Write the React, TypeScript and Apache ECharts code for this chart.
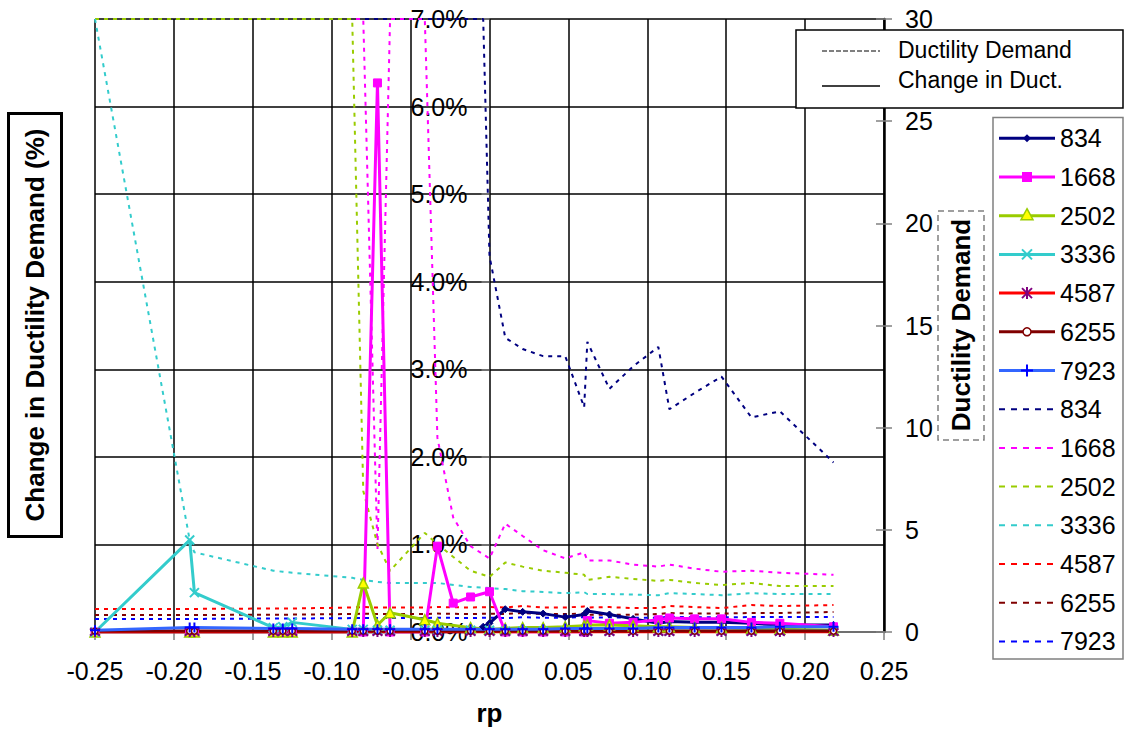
import React, { useEffect, useRef } from 'react';
import * as echarts from 'echarts';

// rp values (x) shared by the series; null marks "no point for this series"
const RP = [-0.25, -0.19, -0.187, -0.137, -0.131, -0.125, -0.087, -0.08, -0.071, -0.063, -0.041, -0.033, -0.023, -0.012, -0.004, 0.0, 0.01, 0.021, 0.034, 0.048, 0.06, 0.062, 0.076, 0.091, 0.107, 0.114, 0.13, 0.147, 0.166, 0.184, 0.218];

const SIZES = ['834', '1668', '2502', '3336', '4587', '6255', '7923'];

// Change in ductility demand (%), left axis
const CHG_834 = [0, 0, 0, 0, 0, 0, 0, 0, 0, 0, 0, 0, null, 0, 0.06, 0.1, 0.26, 0.23, 0.21, 0.17, 0.2, 0.24, 0.2, 0.15, 0.1, 0.12, 0.11, 0.11, 0.1, 0.08, 0.08];
const CHG_1668 = [0, 0, 0, 0, 0, 0, 0, 0, 6.27, 0, 0, 0.98, 0.33, 0.4, null, 0.46, 0, 0, 0, 0, 0, 0.13, 0.1, 0.11, 0.14, 0.16, 0.15, 0.15, 0.11, 0.1, 0.06];
const CHG_2502 = [0, 0, 0, 0, 0, 0, 0, 0.56, 0.08, 0.22, 0.14, 0.1, null, 0.05, null, 0.03, 0.04, 0.05, 0.05, 0.06, 0.07, 0.08, 0.08, 0.07, 0.06, 0.06, 0.05, 0.05, 0.04, 0.03, 0.02];
const CHG_3336 = [0, 1.05, 0.45, 0.05, 0.06, 0.11, 0.03, 0.03, 0.02, 0.02, 0.02, 0.02, null, 0.02, null, 0.02, 0.01, 0.01, 0.01, 0.01, 0.01, 0.01, 0.01, 0.01, 0.01, 0.01, 0.01, 0.01, 0.01, 0.01, 0.01];
const CHG_4587 = [0, 0, 0, 0, 0, 0, 0, 0, 0, 0, 0, 0, null, 0, null, 0, 0, 0, 0, 0, 0, 0, 0, 0, 0, 0, 0, 0, 0, 0, 0];
const CHG_6255 = [0.01, 0.01, 0.01, 0.01, 0.01, 0.01, 0.01, 0.01, 0.01, 0.01, 0.01, 0.01, null, 0.01, null, 0.01, 0.01, 0.01, 0.01, 0.01, 0.01, 0.01, 0.01, 0.01, 0.01, 0.01, 0.01, 0.01, 0.01, 0.01, 0.01];
const CHG_7923 = [0.02, 0.05, 0.05, 0.04, 0.04, 0.04, 0.03, 0.03, 0.03, 0.03, 0.03, 0.03, null, 0.03, null, 0.03, 0.03, 0.03, 0.03, 0.04, 0.04, 0.04, 0.04, 0.04, 0.05, 0.05, 0.05, 0.05, 0.05, 0.06, 0.06];

// Ductility demand, right axis (values at the top were read as 30, the axis limit)
const DD_834 = [30, 30, 30, 30, 30, 30, 30, 30, 30, 30, 30, 30, null, 30, 30, 18.4, 14.4, 13.85, 13.5, 13.5, 11.0, 14.2, 11.9, 13.0, 13.95, 10.9, 11.7, 12.5, 10.5, 10.8, 8.3];
const DD_1668 = [30, 30, 30, 30, 30, 30, 30, 30, 4.0, 30, 30, 9.5, 5.6, 4.2, null, 3.6, 5.3, 4.7, 4.0, 3.6, 3.9, 3.5, 3.5, 3.3, 3.2, 3.3, 3.1, 2.95, 3.0, 2.9, 2.8];
const DD_2502 = [30, 30, 30, 30, 30, 30, 30, 6.9, 4.3, 3.0, 4.85, 4.3, null, 3.0, null, 2.7, 3.4, 3.2, 3.0, 2.9, 2.8, 2.55, 2.7, 2.6, 2.5, 2.55, 2.4, 2.3, 2.4, 2.25, 2.25];
const DD_3336 = [30, 4.5, 3.9, 3.0, 2.95, 2.9, 2.65, 2.55, 2.45, 2.4, 2.4, 2.4, null, 2.2, null, 2.15, 2.1, 2.0, 1.96, 1.9, 1.95, 1.86, 1.86, 1.83, 1.8, 1.9, 1.86, 1.8, 1.9, 1.86, 1.86];
const DD_4587 = [1.13, 1.13, 1.13, 1.15, 1.15, 1.15, 1.2, 1.22, 1.2, 1.2, 1.2, 1.22, null, 1.2, null, 1.22, 1.2, 1.27, 1.2, 1.2, 1.25, 1.2, 1.22, 1.17, 1.17, 1.27, 1.22, 1.17, 1.32, 1.27, 1.32];
const DD_6255 = [0.83, 0.83, 0.83, 0.85, 0.85, 0.85, 0.88, 0.9, 0.88, 0.88, 0.88, 0.9, null, 0.88, null, 0.9, 0.88, 0.93, 0.88, 0.88, 0.9, 0.85, 0.85, 0.85, 0.88, 0.93, 0.9, 0.9, 0.93, 0.93, 0.98];
const DD_7923 = [0.64, 0.64, 0.64, 0.66, 0.66, 0.66, 0.68, 0.68, 0.68, 0.68, 0.68, 0.7, null, 0.68, null, 0.7, 0.68, 0.72, 0.7, 0.7, 0.73, 0.7, 0.72, 0.7, 0.7, 0.75, 0.72, 0.72, 0.73, 0.73, 0.73];

const CHANGE = [CHG_834, CHG_1668, CHG_2502, CHG_3336, CHG_4587, CHG_6255, CHG_7923];
const DUCT = [DD_834, DD_1668, DD_2502, DD_3336, DD_4587, DD_6255, DD_7923];

const LEGEND_TOP = ['Ductility Demand', 'Change in Duct.'];

const FONT = 'Arial, "Liberation Sans", Helvetica, sans-serif';

const X_PATH = 'path://M0,0L10,10M10,0L0,10';
const STAR_PATH = 'path://M0,0L10,10M10,0L0,10M5,-2L5,12';
const PLUS_PATH = 'path://M5,0L5,10M0,5L10,5';

const STYLES = [
  { line: '#000080', dot: '#000080', symbol: 'diamond', size: 7, fill: '#000080', stroke: '#000080', bw: 1, kind: 'diamond' },
  { line: '#FF00FF', dot: '#FF00FF', symbol: 'rect', size: 8, fill: '#FF00FF', stroke: '#FF00FF', bw: 1, kind: 'rect' },
  { line: '#99CC00', dot: '#99CC00', symbol: 'triangle', size: 10, fill: '#FFFF00', stroke: '#99CC00', bw: 1.5, kind: 'triangle' },
  { line: '#33CCCC', dot: '#33CCCC', symbol: X_PATH, size: 9, fill: '#33CCCC', stroke: '#33CCCC', bw: 2, kind: 'x' },
  { line: '#FF0000', dot: '#FF0000', symbol: STAR_PATH, size: 10, fill: '#800080', stroke: '#800080', bw: 2, kind: 'star' },
  { line: '#800000', dot: '#800000', symbol: 'circle', size: 6, fill: '#FFFFFF', stroke: '#800000', bw: 1.5, kind: 'circle' },
  { line: '#3366FF', dot: '#0000FF', symbol: PLUS_PATH, size: 10, fill: '#0000FF', stroke: '#0000FF', bw: 2, kind: 'plus' },
];

const GRID_LEFT = 95;
const GRID_RIGHT_PX = 884;

const pts = (ys: (number | null)[]) =>
  RP.map((x, i) => [x, ys[i]]).filter((p) => p[1] !== null);

function marker(kind: string, cx: number, cy: number, s: any): any[] {
  const ln = (x1: number, y1: number, x2: number, y2: number) => ({
    type: 'line', z: 101, shape: { x1, y1, x2, y2 }, style: { stroke: s.stroke, lineWidth: 2 },
  });
  switch (kind) {
    case 'diamond':
      return [{ type: 'polygon', z: 101, shape: { points: [[cx, cy - 4], [cx + 4, cy], [cx, cy + 4], [cx - 4, cy]] }, style: { fill: s.fill } }];
    case 'rect':
      return [{ type: 'rect', z: 101, shape: { x: cx - 5, y: cy - 5, width: 10, height: 10 }, style: { fill: s.fill } }];
    case 'triangle':
      return [{ type: 'polygon', z: 101, shape: { points: [[cx, cy - 7], [cx + 6, cy + 4], [cx - 6, cy + 4]] }, style: { fill: s.fill, stroke: s.stroke, lineWidth: 1.5 } }];
    case 'x':
      return [ln(cx - 5, cy - 5, cx + 5, cy + 5), ln(cx + 5, cy - 5, cx - 5, cy + 5)];
    case 'star':
      return [ln(cx - 5, cy - 5, cx + 5, cy + 5), ln(cx + 5, cy - 5, cx - 5, cy + 5), ln(cx, cy - 6, cx, cy + 6)];
    case 'circle':
      return [{ type: 'circle', z: 101, shape: { cx, cy, r: 4 }, style: { fill: '#fff', stroke: s.stroke, lineWidth: 1.5 } }];
    case 'plus':
      return [ln(cx - 6, cy, cx + 6, cy), ln(cx, cy - 6, cx, cy + 6)];
  }
  return [];
}

function buildGraphics(): any[] {
  const els: any[] = [];
  // left axis title
  els.push({ type: 'rect', z: 100, shape: { x: 8.5, y: 113.5, width: 53, height: 423 }, style: { fill: '#fff', stroke: '#000', lineWidth: 3 } });
  els.push({ type: 'text', z: 101, x: 35, y: 325, rotation: Math.PI / 2, style: { text: 'Change in Ductility Demand (%)', font: `bold 26px ${FONT}`, fill: '#000', align: 'center', verticalAlign: 'middle' } });
  // right axis title
  els.push({ type: 'rect', z: 100, shape: { x: 938, y: 211, width: 46, height: 229 }, style: { fill: '#fff', stroke: '#808080', lineWidth: 1.5, lineDash: [6, 4] } });
  els.push({ type: 'text', z: 101, x: 961, y: 325, rotation: Math.PI / 2, style: { text: 'Ductility Demand', font: `bold 26px ${FONT}`, fill: '#000', align: 'center', verticalAlign: 'middle' } });
  // top legend
  els.push({ type: 'rect', z: 100, shape: { x: 796, y: 30, width: 327, height: 78 }, style: { fill: '#fff', stroke: '#000', lineWidth: 1.5 } });
  els.push({ type: 'line', z: 101, shape: { x1: 822, y1: 51, x2: 880, y2: 51 }, style: { stroke: '#000', lineWidth: 1, lineDash: [5, 2] } });
  els.push({ type: 'line', z: 101, shape: { x1: 822, y1: 86, x2: 880, y2: 86 }, style: { stroke: '#000', lineWidth: 1.5 } });
  els.push({ type: 'text', z: 101, x: 898, y: 50, style: { text: LEGEND_TOP[0], font: `23px ${FONT}`, fill: '#000', align: 'left', verticalAlign: 'middle' } });
  els.push({ type: 'text', z: 101, x: 898, y: 80, style: { text: LEGEND_TOP[1], font: `23px ${FONT}`, fill: '#000', align: 'left', verticalAlign: 'middle' } });
  // series legend
  els.push({ type: 'rect', z: 100, shape: { x: 993, y: 117.5, width: 130, height: 541.5 }, style: { fill: '#fff', stroke: '#808080', lineWidth: 1.5 } });
  const y0 = 138.3;
  const step = 38.7;
  SIZES.forEach((name, k) => {
    const s = STYLES[k];
    const y = y0 + k * step;
    els.push({ type: 'line', z: 101, shape: { x1: 999, y1: y, x2: 1055, y2: y }, style: { stroke: s.line, lineWidth: 3 } });
    marker(s.kind, 1027, y, s).forEach((e) => els.push(e));
    els.push({ type: 'text', z: 101, x: 1060, y, style: { text: name, font: `25px ${FONT}`, fill: '#000', align: 'left', verticalAlign: 'middle' } });
  });
  SIZES.forEach((name, k) => {
    const s = STYLES[k];
    const y = y0 + (k + 7) * step;
    els.push({ type: 'line', z: 101, shape: { x1: 999, y1: y, x2: 1055, y2: y }, style: { stroke: s.dot, lineWidth: 2, lineDash: [6, 6] } });
    els.push({ type: 'text', z: 101, x: 1060, y, style: { text: name, font: `25px ${FONT}`, fill: '#000', align: 'left', verticalAlign: 'middle' } });
  });
  return els;
}

function buildOption(): any {
  const series: any[] = [];
  SIZES.forEach((name, k) => {
    const s = STYLES[k];
    series.push({
      name: 'Change ' + name,
      type: 'line',
      yAxisIndex: 0,
      data: pts(CHANGE[k]),
      symbol: s.symbol,
      symbolSize: s.size,
      showSymbol: true,
      showAllSymbol: true,
      lineStyle: { color: s.line, width: 3 },
      itemStyle: { color: s.fill, borderColor: s.stroke, borderWidth: s.bw },
      z: 3,
      silent: true,
      clip: true,
    });
  });
  SIZES.forEach((name, k) => {
    const s = STYLES[k];
    series.push({
      name: 'Demand ' + name,
      type: 'line',
      yAxisIndex: 1,
      data: pts(DUCT[k]),
      symbol: 'none',
      showSymbol: false,
      lineStyle: { color: s.dot, width: 2, type: [4, 5] },
      z: 2,
      silent: true,
      clip: true,
    });
  });

  // the primary value axis crosses the horizontal axis at rp = 0
  const zeroPx = GRID_LEFT + (0 - -0.25) / 0.5 * (GRID_RIGHT_PX - GRID_LEFT);
  const tickStyle = { color: '#808080', width: 1.5 };
  return {
    animation: false,
    backgroundColor: '#ffffff',
    textStyle: { fontFamily: FONT },
    grid: { left: GRID_LEFT, right: 1125 - GRID_RIGHT_PX, top: 19, bottom: 102, containLabel: false },
    xAxis: {
      type: 'value',
      min: -0.25,
      max: 0.25,
      interval: 0.05,
      name: 'rp',
      nameLocation: 'middle',
      nameGap: 68,
      nameTextStyle: { fontSize: 26, fontWeight: 'bold', color: '#000', fontFamily: FONT },
      axisLine: { show: true, onZero: false, lineStyle: { color: '#808080', width: 1.5 } },
      axisTick: { show: true, length: 8, lineStyle: tickStyle },
      axisLabel: {
        fontSize: 25, color: '#000', margin: 26, fontFamily: FONT,
        formatter: (v: number) => (Math.abs(v) < 1e-9 ? '0.00' : v.toFixed(2)),
      },
      splitLine: { show: true, lineStyle: { color: '#000', width: 1.5 } },
    },
    yAxis: [
      {
        type: 'value',
        min: 0,
        max: 7,
        interval: 1,
        position: 'left',
        offset: -(zeroPx - GRID_LEFT),
        axisLine: { show: false, onZero: false },
        axisTick: { show: true, length: 8, lineStyle: tickStyle },
        axisLabel: { fontSize: 25, color: '#000', margin: 22, fontFamily: FONT, formatter: (v: number) => v.toFixed(1) + '%' },
        splitLine: { show: true, lineStyle: { color: '#000', width: 1.5 } },
      },
      {
        type: 'value',
        min: 0,
        max: 30,
        interval: 5,
        position: 'right',
        axisLine: { show: true, onZero: false, lineStyle: { color: '#000', width: 2.5 } },
        axisTick: { show: true, length: 8, lineStyle: tickStyle },
        axisLabel: { fontSize: 25, color: '#000', margin: 21, fontFamily: FONT },
        splitLine: { show: false },
      },
      {
        type: 'value',
        min: 0,
        max: 30,
        interval: 5,
        position: 'right',
        axisLine: { show: false, onZero: false },
        axisTick: { show: true, inside: true, length: 8, lineStyle: tickStyle },
        axisLabel: { show: false },
        splitLine: { show: false },
      },
    ],
    series,
    graphic: { elements: buildGraphics() },
  };
}

export default function App() {
  const ref = useRef<HTMLDivElement>(null);
  useEffect(() => {
    if (!ref.current) return;
    const chart = echarts.init(ref.current, null, { renderer: 'svg' });
    chart.setOption(buildOption());
    return () => chart.dispose();
  }, []);
  return (
    <div
      ref={ref}
      style={{ position: 'fixed', left: 0, top: 0, width: 1125, height: 734, background: '#fff' }}
    />
  );
}
